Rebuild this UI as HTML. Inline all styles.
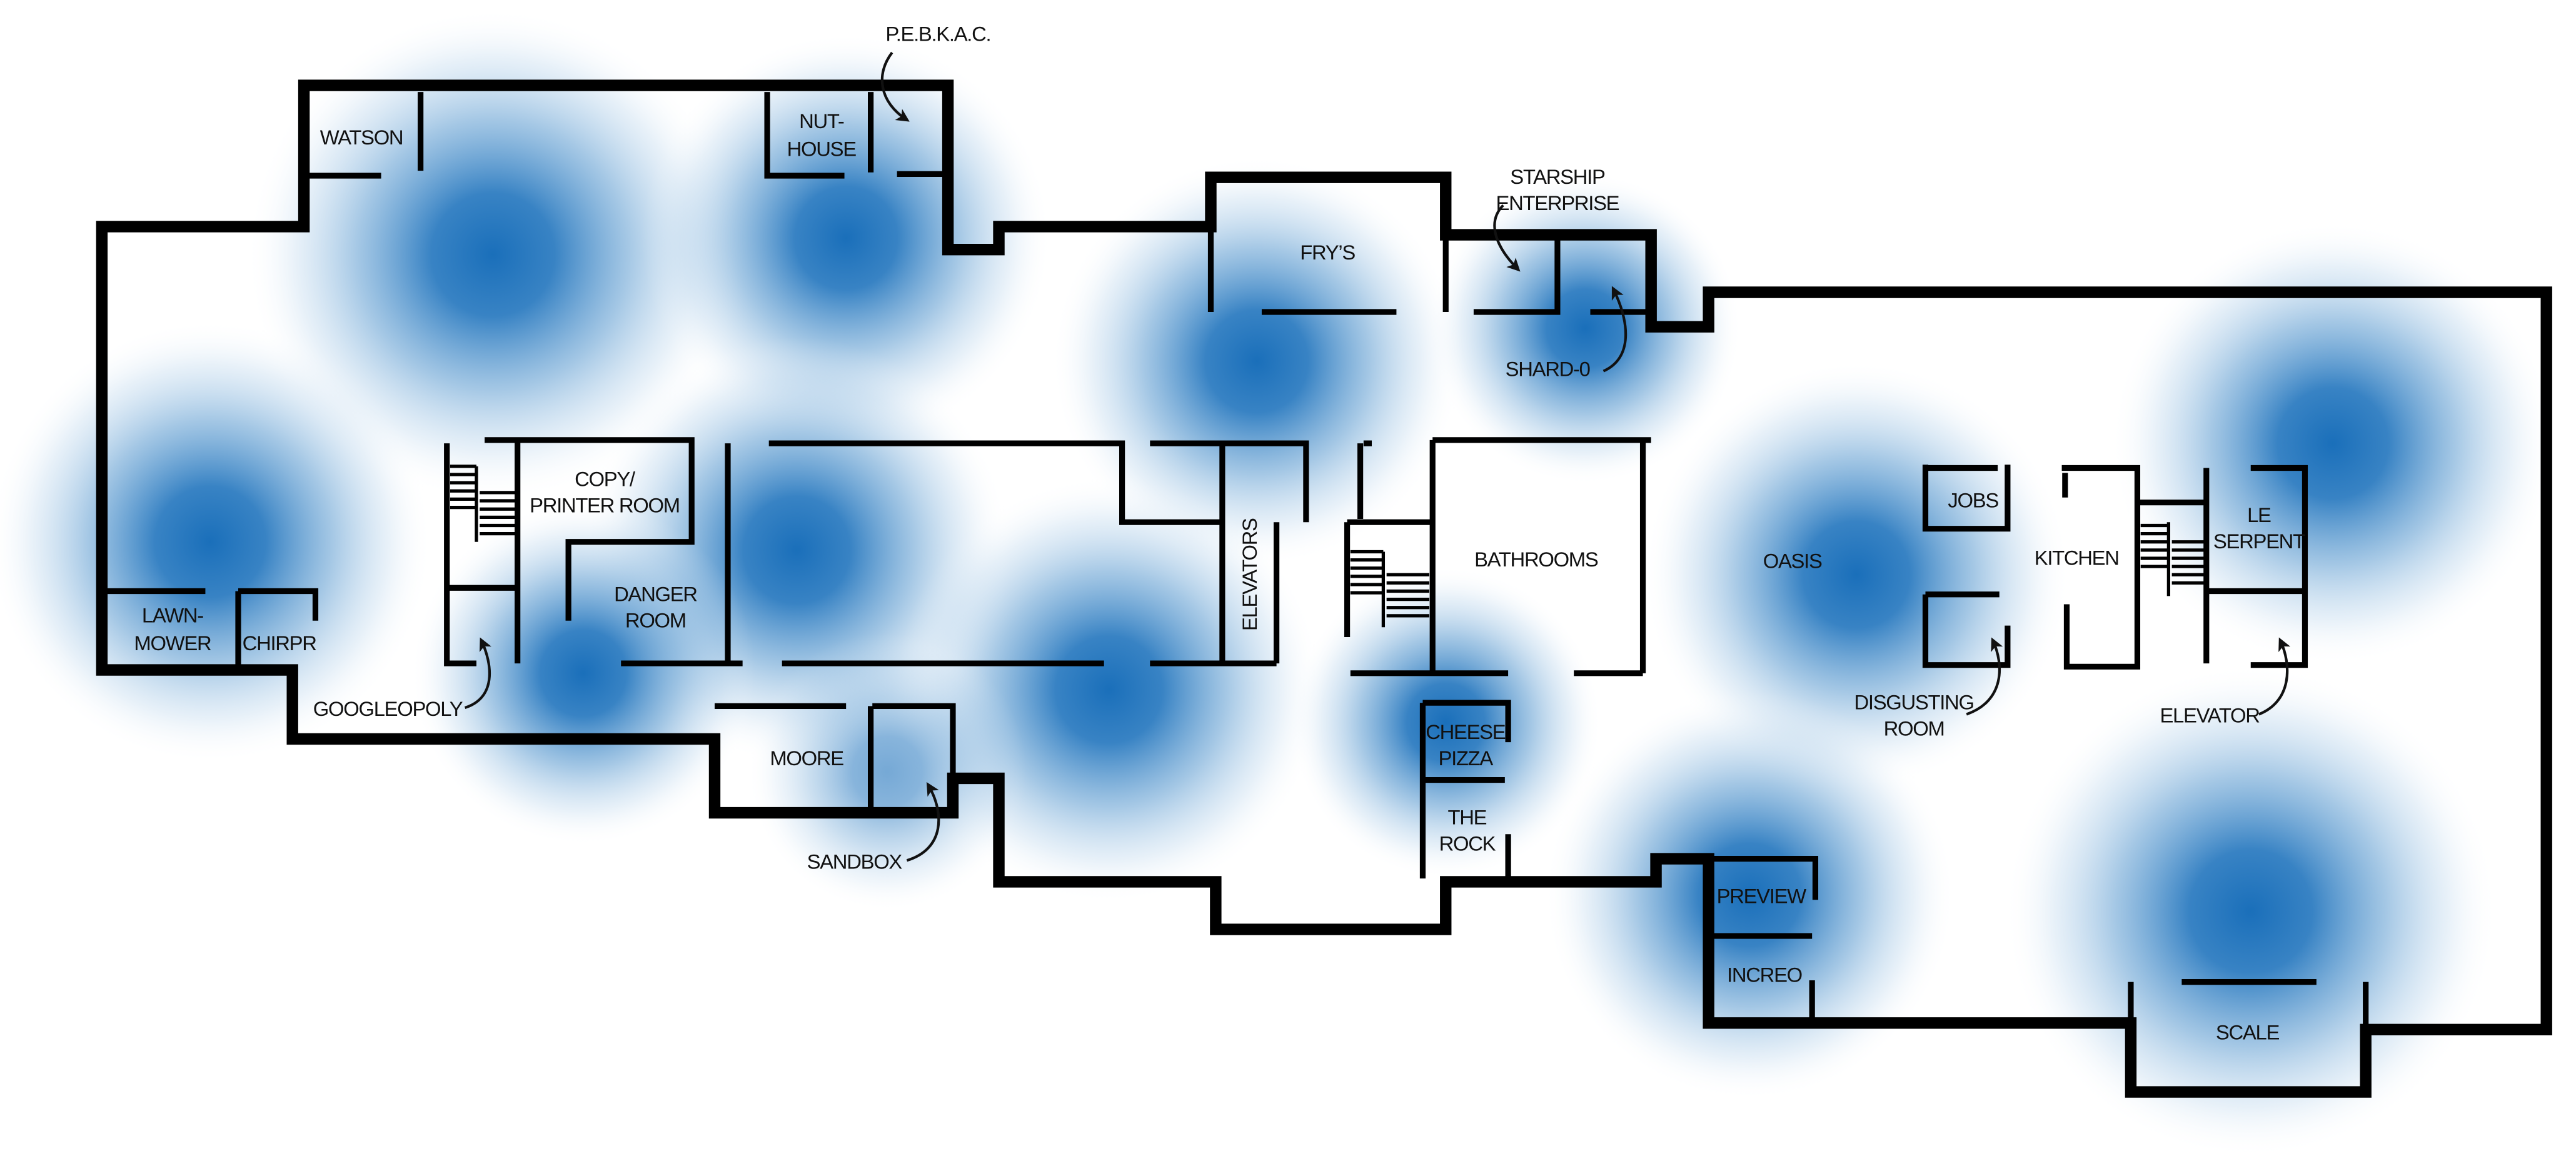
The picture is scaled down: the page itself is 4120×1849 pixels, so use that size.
<!DOCTYPE html>
<html><head><meta charset="utf-8"><style>
html,body{margin:0;padding:0;background:#fff;}
svg{display:block;}
text{font-family:"Liberation Sans",sans-serif;font-size:12.5px;fill:#111;text-anchor:middle;letter-spacing:-0.5px;}
</style></head><body>
<svg width="4120" height="1849" viewBox="0 0 1568 704" preserveAspectRatio="none" xmlns="http://www.w3.org/2000/svg">
<defs>
<radialGradient id="b"><stop offset="0" stop-color="#1a6fba" stop-opacity="1"/><stop offset="0.25" stop-color="#1d72bc" stop-opacity="0.88"/><stop offset="0.55" stop-color="#4a90cb" stop-opacity="0.5"/><stop offset="0.8" stop-color="#8ab8df" stop-opacity="0.2"/><stop offset="1" stop-color="#ffffff" stop-opacity="0"/></radialGradient>
<marker id="ah" markerWidth="8" markerHeight="8" refX="6" refY="4" orient="auto" markerUnits="userSpaceOnUse"><path d="M0,0 L8,4 L0,8 L2,4 z" fill="#111"/></marker>
</defs>
<rect width="1568" height="704" fill="#fff"/>
<g>
<circle cx="300" cy="155" r="150" fill="url(#b)"/>
<circle cx="515" cy="145" r="125" fill="url(#b)"/>
<circle cx="765" cy="220" r="125" fill="url(#b)"/>
<circle cx="965" cy="200" r="95" fill="url(#b)"/>
<circle cx="128" cy="330" r="135" fill="url(#b)"/>
<circle cx="485" cy="335" r="130" fill="url(#b)"/>
<circle cx="355" cy="410" r="105" fill="url(#b)"/>
<circle cx="675" cy="420" r="130" fill="url(#b)"/>
<circle cx="880" cy="440" r="95" fill="url(#b)"/>
<circle cx="1130" cy="350" r="130" fill="url(#b)"/>
<circle cx="1420" cy="270" r="135" fill="url(#b)"/>
<circle cx="1065" cy="545" r="125" fill="url(#b)"/>
<circle cx="1370" cy="555" r="150" fill="url(#b)"/>
<circle cx="540" cy="470" r="85" fill="url(#b)" opacity="0.6"/>
</g>
<path d="M62,138 L62,408 L178,408 L178,450 L435,450 L435,495 L580,495 L580,474 L608,474 L608,537 L740,537 L740,566 L880,566 L880,537 L1008,537 L1008,523 L1040,523 L1040,623 L1297,623 L1297,665 L1440,665 L1440,627 L1550,627 L1550,178 L1040,178 L1040,199 L1005,199 L1005,143 L880,143 L880,108 L737,108 L737,138 L608,138 L608,152 L577,152 L577,52 L185,52 L185,138 Z" fill="none" stroke="#000" stroke-width="7" stroke-linejoin="miter"/>
<g stroke="#000" stroke-width="3.5" fill="none" stroke-linecap="butt">
<path d="M187,107 L232,107 M256,56 L256,104"/>
<path d="M467,56 L467,107 L514,107 M530,56 L530,105 M546,106 L575,106"/>
<path d="M737,140 L737,190 M768,190 L850,190 M880,146 L880,190 M897,190 L948,190 L948,146 M968,190 L1003,190"/>
<path d="M272,270 L272,404 L290,404 M272,358 L315,358 M315,268 L315,404 M295,268 L421,268 L421,330 L346,330 L346,378 M443,270 L443,404 M378,404 L452,404"/>
<path d="M468,270 L683,270 L683,318 L744,318 M700,270 L795,270 L795,318 M744,270 L744,404 M777,318 L777,404 M476,404 L672,404 M700,404 L777,404"/>
<path stroke-width="2" d="M274,284 L290,284 M274,289 L290,289 M274,294 L290,294 M274,299 L290,299 M274,304 L290,304 M274,309 L290,309 M290,284 L290,330 M292,300 L314,300 M292,305 L314,305 M292,310 L314,310 M292,315 L314,315 M292,320 L314,320 M292,325 L314,325"/>
<path d="M828,270 L828,316 M830,270 L835,270 M820,318 L872,318 M820,318 L820,388 M872,268 L1005,268 M872,268 L872,410 M1000,268 L1000,410 M822,410 L918,410 M958,410 L1000,410"/>
<path stroke-width="2" d="M822,336 L842,336 M822,341 L842,341 M822,346 L842,346 M822,351 L842,351 M822,356 L842,356 M822,361 L842,361 M842,336 L842,382 M844,350 L870,350 M844,355 L870,355 M844,360 L870,360 M844,365 L870,365 M844,370 L870,370 M844,375 L870,375"/>
<path d="M866,428 L918,428 L918,452 M866,428 L866,535 M866,475 L916,475 M918,508 L918,535"/>
<path d="M435,430 L515,430 M531,430 L580,430 L580,474 M530,430 L530,495"/>
<path d="M64,360 L125,360 M145,360 L192,360 L192,378 M145,360 L145,408"/>
<path d="M1042,523 L1105,523 L1105,548 M1042,570 L1103,570 M1103,597 L1103,622"/>
<path d="M1328,598 L1410,598 M1297,598 L1297,623 M1440,598 L1440,627"/>
<path d="M1172,285 L1216,285 M1172,283 L1172,322 L1222,322 L1222,283"/>
<path d="M1172,362 L1217,362 M1172,362 L1172,405 L1222,405 L1222,381"/>
<path d="M1257,288 L1257,303 M1255,285 L1301,285 L1301,406 L1258,406 L1258,368 M1301,306 L1342,306 M1343,285 L1343,404 M1370,285 L1403,285 L1403,405 L1370,405 M1343,360 L1403,360"/>
<path stroke-width="2" d="M1303,320 L1320,320 M1303,325 L1320,325 M1303,330 L1320,330 M1303,335 L1320,335 M1303,340 L1320,340 M1303,345 L1320,345 M1320,318 L1320,363 M1322,330 L1342,330 M1322,335 L1342,335 M1322,340 L1342,340 M1322,345 L1342,345 M1322,350 L1342,350 M1322,355 L1342,355"/>
</g>
<g stroke="#111" stroke-width="1.6" fill="none">
<path d="M543,32 C533,45 535,62 552,73" marker-end="url(#ah)"/>
<path d="M915,125 C905,135 910,150 924,164" marker-end="url(#ah)"/>
<path d="M976,226 C994,218 992,196 982,176" marker-end="url(#ah)"/>
<path d="M283,431 C302,425 300,405 293,390" marker-end="url(#ah)"/>
<path d="M552,524 C575,517 575,495 565,478" marker-end="url(#ah)"/>
<path d="M1197,435 C1220,427 1220,405 1213,390" marker-end="url(#ah)"/>
<path d="M1375,435 C1395,427 1395,405 1388,390" marker-end="url(#ah)"/>
</g>
<text x="220" y="88">WATSON</text>
<text x="500" y="78">NUT-</text>
<text x="500" y="95">HOUSE</text>
<text x="571" y="25">P.E.B.K.A.C.</text>
<text x="808" y="158">FRY’S</text>
<text x="948" y="112">STARSHIP</text>
<text x="948" y="128">ENTERPRISE</text>
<text x="942" y="229">SHARD-0</text>
<text x="368" y="296">COPY/</text>
<text x="368" y="312">PRINTER ROOM</text>
<text x="399" y="366">DANGER</text>
<text x="399" y="382">ROOM</text>
<text x="765" y="350" transform="rotate(-90 765 350)">ELEVATORS</text>
<text x="935" y="345">BATHROOMS</text>
<text x="1091" y="346">OASIS</text>
<text x="1201" y="309">JOBS</text>
<text x="1264" y="344">KITCHEN</text>
<text x="1375" y="318">LE</text>
<text x="1375" y="334">SERPENT</text>
<text x="1165" y="432">DISGUSTING</text>
<text x="1165" y="448">ROOM</text>
<text x="1345" y="440">ELEVATOR</text>
<text x="105" y="379">LAWN-</text>
<text x="105" y="396">MOWER</text>
<text x="170" y="396">CHIRPR</text>
<text x="236" y="436">GOOGLEOPOLY</text>
<text x="491" y="466">MOORE</text>
<text x="520" y="529">SANDBOX</text>
<text x="892" y="450">CHEESE</text>
<text x="892" y="466">PIZZA</text>
<text x="893" y="502">THE</text>
<text x="893" y="518">ROCK</text>
<text x="1072" y="550">PREVIEW</text>
<text x="1074" y="598">INCREO</text>
<text x="1368" y="633">SCALE</text>
</svg>
</body></html>
